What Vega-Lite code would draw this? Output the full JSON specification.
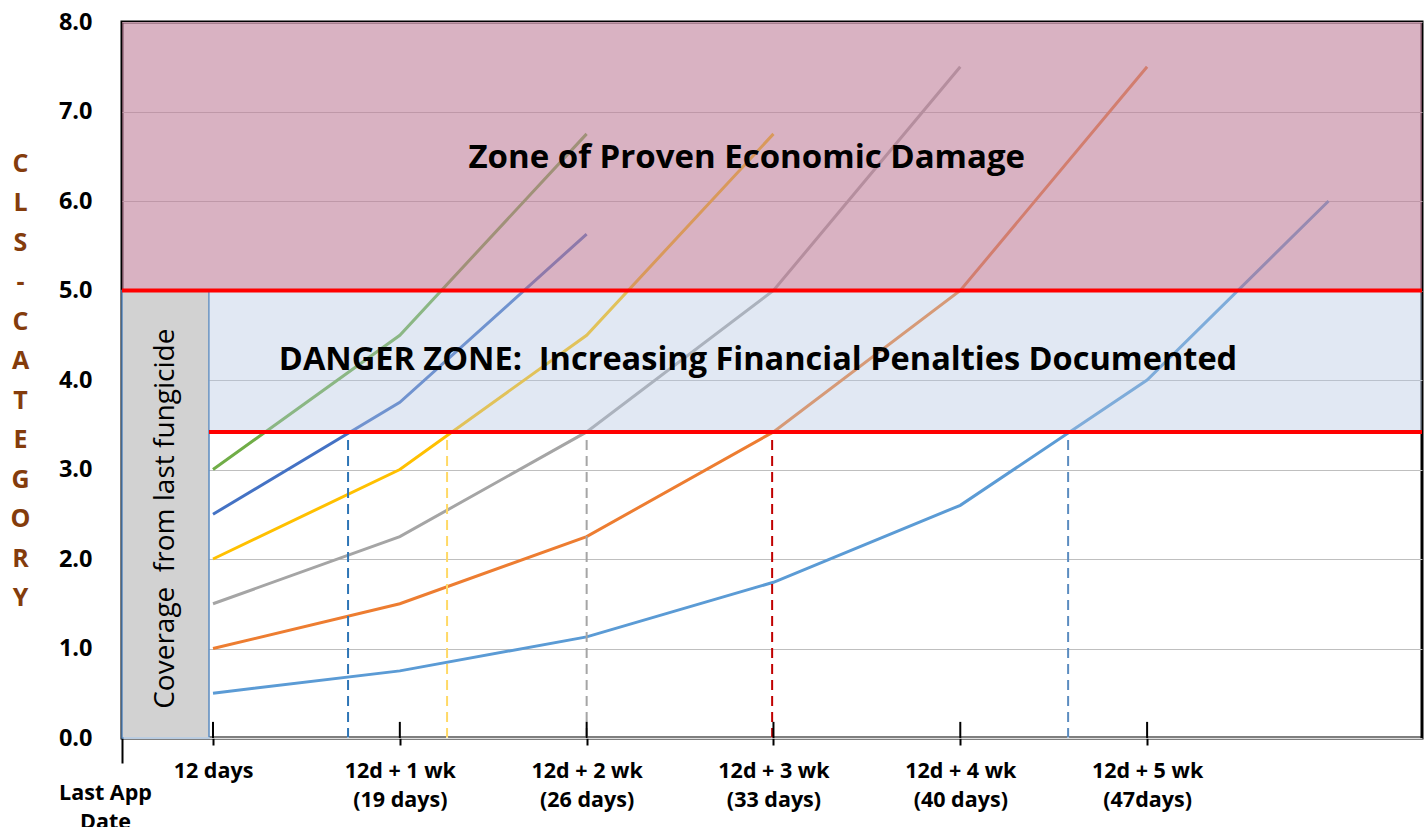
{
  "$schema": "https://vega.github.io/schema/vega-lite/v6.json",
  "width": 1300,
  "height": 716,
  "autosize": {"type": "none"},
  "padding": {"left": 122, "top": 22, "right": 4, "bottom": 89},
  "background": "white",
  "config": {
    "view": {"stroke": "black", "strokeWidth": 3},
    "font": "Open Sans"
  },
  "datasets": {
    "curves": [
      {"curve": "A", "day": 12, "cls": 0.5},
      {"curve": "A", "day": 19, "cls": 0.75},
      {"curve": "A", "day": 26, "cls": 1.13},
      {"curve": "A", "day": 33, "cls": 1.74},
      {"curve": "A", "day": 40, "cls": 2.6},
      {"curve": "A", "day": 47, "cls": 4.0},
      {"curve": "A", "day": 53.8, "cls": 6.0},
      {"curve": "B", "day": 12, "cls": 1.0},
      {"curve": "B", "day": 19, "cls": 1.5},
      {"curve": "B", "day": 26, "cls": 2.25},
      {"curve": "B", "day": 33, "cls": 3.42},
      {"curve": "B", "day": 40, "cls": 5.0},
      {"curve": "B", "day": 47, "cls": 7.5},
      {"curve": "C", "day": 12, "cls": 1.5},
      {"curve": "C", "day": 19, "cls": 2.25},
      {"curve": "C", "day": 26, "cls": 3.42},
      {"curve": "C", "day": 33, "cls": 5.0},
      {"curve": "C", "day": 40, "cls": 7.5},
      {"curve": "D", "day": 12, "cls": 2.0},
      {"curve": "D", "day": 19, "cls": 3.0},
      {"curve": "D", "day": 26, "cls": 4.5},
      {"curve": "D", "day": 33, "cls": 6.75},
      {"curve": "E", "day": 12, "cls": 2.5},
      {"curve": "E", "day": 19, "cls": 3.75},
      {"curve": "E", "day": 26, "cls": 5.63},
      {"curve": "F", "day": 12, "cls": 3.0},
      {"curve": "F", "day": 19, "cls": 4.5},
      {"curve": "F", "day": 26, "cls": 6.75}
    ],
    "crossings": [
      {"curve": "E", "day": 17.06},
      {"curve": "D", "day": 20.77},
      {"curve": "C", "day": 26.0},
      {"curve": "B", "day": 32.95},
      {"curve": "A", "day": 44.04}
    ],
    "ticks": [
      {"day": 12}, {"day": 19}, {"day": 26}, {"day": 33}, {"day": 40}, {"day": 47}
    ],
    "notes": [
      {"label": "note"}
    ]
  },
  "layer": [
    {
      "data": {"name": "notes"},
      "mark": {"type": "rect", "fill": "#D2D2D2", "stroke": "#5B8BC0", "strokeWidth": 1.5},
      "encoding": {
        "x": {"datum": 8.59, "type": "quantitative"},
        "x2": {"datum": 11.85},
        "y": {"datum": 0, "type": "quantitative"},
        "y2": {"datum": 5}
      }
    },
    {
      "data": {"name": "notes"},
      "mark": {"type": "text", "text": "Coverage\u00a0 from last fungicide", "angle": 270, "fontSize": 28, "color": "black", "align": "center", "baseline": "middle"},
      "encoding": {
        "x": {"datum": 10.25, "type": "quantitative"},
        "y": {"datum": 2.45, "type": "quantitative"}
      }
    },
    {
      "data": {"name": "curves"},
      "mark": {"type": "line", "strokeWidth": 3},
      "encoding": {
        "x": {
          "field": "day", "type": "quantitative",
          "scale": {"domain": [8.59, 57.3], "nice": false, "zero": false},
          "axis": {
            "title": null,
            "values": [8.59, 12, 19, 26, 33, 40, 47],
            "grid": false,
            "domain": false,
            "tickColor": "black",
            "tickWidth": 2,
            "tickSize": {"condition": {"test": "datum.value < 10", "value": 25}, "value": 7},
            "labelPadding": {"condition": {"test": "datum.value < 10", "value": 19}, "value": 15},
            "labelOffset": {"condition": {"test": "datum.value < 10", "value": -17}, "value": 0},
            "labelFontSize": 21.5,
            "labelFontWeight": "bold",
            "labelColor": "black",
            "labelLineHeight": 29,
            "labelFlush": false,
            "labelOverlap": false,
            "labelBound": false,
            "labelExpr": "datum.value < 10 ? ['Last App', 'Date'] : datum.value == 12 ? '12 days' : datum.value == 19 ? ['12d + 1 wk', '(19 days)'] : datum.value == 26 ? ['12d + 2 wk', '(26 days)'] : datum.value == 33 ? ['12d + 3 wk', '(33 days)'] : datum.value == 40 ? ['12d + 4 wk', '(40 days)'] : ['12d + 5 wk', '(47days)']"
          }
        },
        "y": {
          "field": "cls", "type": "quantitative",
          "scale": {"domain": [0, 8], "nice": false, "zero": true},
          "axis": {
            "values": [0, 1, 2, 3, 4, 5, 6, 7, 8],
            "format": ".1f",
            "labelFontSize": 23.5,
            "labelFontWeight": "bold",
            "labelColor": "black",
            "labelPadding": 30,
            "ticks": false,
            "domain": false,
            "grid": true,
            "gridColor": "#BFBFBF",
            "gridWidth": 1,
            "title": ["C", "L", "S", "-", "C", "A", "T", "E", "G", "O", "R", "Y"],
            "titleAngle": 0,
            "titleFontSize": 25,
            "titleFontWeight": "bold",
            "titleColor": "#843C0C",
            "titleLineHeight": 39.5,
            "titleX": -102,
            "titleY": 141,
            "titleAlign": "center",
            "titleBaseline": "middle"
          }
        },
        "color": {
          "field": "curve", "type": "nominal",
          "scale": {"domain": ["A", "B", "C", "D", "E", "F"], "range": ["#5B9BD5", "#ED7D31", "#A5A5A5", "#FFC000", "#4472C4", "#70AD47"]},
          "legend": null
        }
      }
    },
    {
      "data": {"name": "notes"},
      "mark": {"type": "rect", "fill": "#C07F99", "opacity": 0.6},
      "encoding": {
        "x": {"datum": 8.59, "type": "quantitative"},
        "x2": {"datum": 57.3},
        "y": {"datum": 5, "type": "quantitative"},
        "y2": {"datum": 8}
      }
    },
    {
      "data": {"name": "notes"},
      "mark": {"type": "rect", "fill": "#B4C6E2", "opacity": 0.4},
      "encoding": {
        "x": {"datum": 11.85, "type": "quantitative"},
        "x2": {"datum": 57.3},
        "y": {"datum": 3.42, "type": "quantitative"},
        "y2": {"datum": 5}
      }
    },
    {
      "data": {"name": "crossings"},
      "mark": {"type": "rule", "strokeWidth": 2, "strokeDash": [10, 6]},
      "encoding": {
        "x": {"field": "day", "type": "quantitative"},
        "y": {"datum": 0, "type": "quantitative"},
        "y2": {"datum": 3.42},
        "color": {
          "field": "curve", "type": "nominal",
          "scale": {"domain": ["A", "B", "C", "D", "E"], "range": ["#5B8CC0", "#C00000", "#A5A5A5", "#FFD966", "#2E75B6"]},
          "legend": null
        }
      }
    },
    {
      "data": {"name": "notes"},
      "mark": {"type": "rule", "color": "#FF0000", "strokeWidth": 4},
      "encoding": {
        "x": {"datum": 8.59, "type": "quantitative"},
        "x2": {"datum": 57.3},
        "y": {"datum": 5, "type": "quantitative"}
      }
    },
    {
      "data": {"name": "notes"},
      "mark": {"type": "rule", "color": "#FF0000", "strokeWidth": 4},
      "encoding": {
        "x": {"datum": 11.85, "type": "quantitative"},
        "x2": {"datum": 57.3},
        "y": {"datum": 3.42, "type": "quantitative"}
      }
    },
    {
      "data": {"name": "notes"},
      "mark": {"type": "rule", "color": "white", "strokeWidth": 1},
      "encoding": {
        "x": {"datum": 8.65, "type": "quantitative"},
        "x2": {"datum": 57.24},
        "y": {"datum": 0, "type": "quantitative"}
      }
    },
    {
      "data": {"name": "ticks"},
      "mark": {"type": "rule", "color": "black", "strokeWidth": 2},
      "encoding": {
        "x": {"field": "day", "type": "quantitative"},
        "y": {"datum": 0, "type": "quantitative"},
        "y2": {"datum": 0.18}
      }
    },
    {
      "data": {"name": "notes"},
      "mark": {"type": "text", "text": "Zone of Proven Economic Damage", "fontSize": 33, "fontWeight": "bold", "color": "black", "align": "center", "baseline": "middle"},
      "encoding": {
        "x": {"datum": 32.0, "type": "quantitative"},
        "y": {"datum": 6.48, "type": "quantitative"}
      }
    },
    {
      "data": {"name": "notes"},
      "mark": {"type": "text", "text": "DANGER ZONE:\u00a0 Increasing Financial Penalties Documented", "fontSize": 32.5, "fontWeight": "bold", "color": "black", "align": "center", "baseline": "middle"},
      "encoding": {
        "x": {"datum": 32.42, "type": "quantitative"},
        "y": {"datum": 4.22, "type": "quantitative"}
      }
    }
  ],
  "resolve": {"scale": {"color": "independent"}}
}
